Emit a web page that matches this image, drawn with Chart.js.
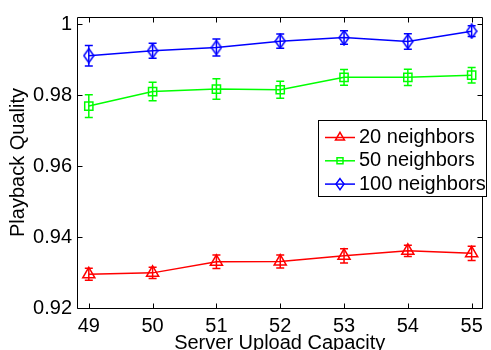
<!DOCTYPE html>
<html>
<head>
<meta charset="utf-8">
<script src="https://cdn.jsdelivr.net/npm/chart.js"></script>
<style>
  body { margin: 0; background: #fff; }
  canvas { display: block; }
</style>
</head>
<body>
<canvas id="chart" width="491" height="350"></canvas>
<script>
// valores
const capacidade = [49, 50, 51, 52, 53, 54, 55];
const q20 = [0.9295, 0.9299, 0.9330, 0.9331, 0.9347, 0.9361, 0.9354];
const e20 = [0.0017, 0.0016, 0.0019, 0.0018, 0.0020, 0.0016, 0.0020];
const q50 = [0.9769, 0.9810, 0.9817, 0.9815, 0.9850, 0.9850, 0.9856];
const e50 = [0.0032, 0.0026, 0.0029, 0.0024, 0.0022, 0.0023, 0.0022];
const q100 = [0.9911, 0.9925, 0.9934, 0.9952, 0.9962, 0.9951, 0.9980];
const e100 = [0.0029, 0.0021, 0.0024, 0.0020, 0.0019, 0.0022, 0.0015];
const xTicks = [49, 50, 51, 52, 53, 54, 55];
const yTicks = [0.92, 0.94, 0.96, 0.98, 1];
const nomes = ['20 neighbors', '50 neighbors', '100 neighbors'];

const fonte = 'Liberation Sans, Arial, sans-serif';

function pontos(vals) {
    return capacidade.map(function(x, i) { return { x: x, y: vals[i] }; });
}

// losango mais alto que largo, como no matlab
function losango(cor, w, h) {
    const c = document.createElement('canvas');
    c.width = w + 2; c.height = h + 2;
    const g = c.getContext('2d');
    g.strokeStyle = cor;
    g.lineWidth = 1.5;
    g.beginPath();
    g.moveTo(c.width / 2, 1);
    g.lineTo(c.width - 1, c.height / 2);
    g.lineTo(c.width / 2, c.height - 1);
    g.lineTo(1, c.height / 2);
    g.closePath();
    g.stroke();
    return c;
}

function serie(label, vals, erros, cor, estilo, raio) {
    return {
        label: label,
        data: pontos(vals),
        erros: erros,
        borderColor: cor,
        backgroundColor: cor,
        borderWidth: 1.5,
        pointStyle: estilo,
        pointRadius: raio,
        pointHoverRadius: raio,
        pointBorderWidth: 1.5,
        pointBorderColor: cor,
        pointBackgroundColor: 'rgba(0,0,0,0)',
        tension: 0,
        fill: false
    };
}

function desenhaMarcador(ctx, tipo, x, y) {
    ctx.beginPath();
    if (tipo === 0) {
        const r = 5.2;
        ctx.moveTo(x, y - r);
        ctx.lineTo(x + r * 0.866, y + r * 0.5);
        ctx.lineTo(x - r * 0.866, y + r * 0.5);
        ctx.closePath();
    } else if (tipo === 1) {
        ctx.rect(x - 3, y - 3, 6, 6);
    } else {
        ctx.moveTo(x, y - 5.5);
        ctx.lineTo(x + 4, y);
        ctx.lineTo(x, y + 5.5);
        ctx.lineTo(x - 4, y);
        ctx.closePath();
    }
    ctx.stroke();
}

// barras de erro, moldura com ticks para dentro e legenda
const extras = {
    id: 'extras',
    afterDatasetsDraw: function(chart) {
        const ctx = chart.ctx;
        const xs = chart.scales.x;
        const ys = chart.scales.y;
        ctx.save();
        chart.data.datasets.forEach(function(ds) {
            ctx.strokeStyle = ds.borderColor;
            ctx.lineWidth = 1.5;
            ds.data.forEach(function(p, i) {
                const px = xs.getPixelForValue(p.x);
                const lo = ys.getPixelForValue(p.y - ds.erros[i]);
                const hi = ys.getPixelForValue(p.y + ds.erros[i]);
                ctx.beginPath();
                ctx.moveTo(px, lo); ctx.lineTo(px, hi);
                ctx.moveTo(px - 4, lo); ctx.lineTo(px + 4, lo);
                ctx.moveTo(px - 4, hi); ctx.lineTo(px + 4, hi);
                ctx.stroke();
            });
        });

        const a = chart.chartArea;
        const L = Math.round(a.left) + 0.5, R = Math.round(a.right) - 0.5;
        const T = Math.round(a.top) + 0.5, B = Math.round(a.bottom) + 0.5;
        ctx.strokeStyle = '#000';
        ctx.lineWidth = 1;
        ctx.beginPath();
        ctx.rect(L, T, R - L, B - T);
        xTicks.forEach(function(v) {
            const px = Math.round(xs.getPixelForValue(v)) + 0.5;
            ctx.moveTo(px, B); ctx.lineTo(px, B - 5);
            ctx.moveTo(px, T); ctx.lineTo(px, T + 5);
        });
        yTicks.forEach(function(v) {
            const py = Math.round(ys.getPixelForValue(v)) + 0.5;
            ctx.moveTo(L, py); ctx.lineTo(L + 5, py);
            ctx.moveTo(R, py); ctx.lineTo(R - 5, py);
        });
        ctx.stroke();

        // legenda
        const lx = 318.5, ly = 120.5, lw = 168, lh = 76;
        ctx.fillStyle = '#fff';
        ctx.fillRect(lx, ly, lw, lh);
        ctx.strokeRect(lx, ly, lw, lh);
        ctx.font = '20px ' + fonte;
        ctx.textBaseline = 'middle';
        ctx.textAlign = 'left';
        chart.data.datasets.forEach(function(ds, i) {
            const y = 137.5 + i * 23.3;
            ctx.strokeStyle = ds.borderColor;
            ctx.lineWidth = 1.5;
            ctx.beginPath();
            ctx.moveTo(325, y); ctx.lineTo(355, y);
            ctx.stroke();
            desenhaMarcador(ctx, i, 340, y);
            ctx.fillStyle = '#000';
            ctx.fillText(nomes[i], 359, y);
        });
        ctx.restore();
    }
};

const ctx = document.getElementById('chart').getContext('2d');
const chart = new Chart(ctx, {
    type: 'line',
    data: {
        datasets: [
            serie(nomes[0], q20, e20, '#ff0000', 'triangle', 7),
            serie(nomes[1], q50, e50, '#00ff00', 'rect', 5.8),
            serie(nomes[2], q100, e100, '#0000ff', losango('#0000ff', 10, 14), 7)
        ]
    },
    options: {
        responsive: false,
        animation: false,
        layout: { padding: { top: 10, right: 1, left: 0, bottom: 0 } },
        plugins: {
            legend: { display: false },
            tooltip: { enabled: false }
        },
        scales: {
            x: {
                type: 'linear',
                min: 48.815,
                max: 55.17,
                grid: { display: false, drawTicks: false },
                border: { display: false },
                afterBuildTicks: function(s) { s.ticks = xTicks.map(function(v) { return { value: v }; }); },
                afterFit: function(s) { s.height = 42; },
                ticks: {
                    color: '#000',
                    padding: 6,
                    maxRotation: 0,
                    font: { family: fonte, size: 20 },
                    callback: function(v) { return String(v); }
                },
                title: {
                    display: true,
                    text: 'Server Upload Capacity',
                    color: '#000',
                    font: { family: fonte, size: 20, lineHeight: 0.7 },
                    padding: 0
                }
            },
            y: {
                min: 0.92,
                max: 1.002,
                grid: { display: false, drawTicks: false },
                border: { display: false },
                afterBuildTicks: function(s) { s.ticks = yTicks.map(function(v) { return { value: v }; }); },
                afterFit: function(s) { s.width = 77; },
                ticks: {
                    color: '#000',
                    padding: 5,
                    font: { family: fonte, size: 20 },
                    callback: function(v) { return v === 1 ? '1' : v.toFixed(2); }
                },
                title: {
                    display: true,
                    text: 'Playback Quality',
                    color: '#000',
                    font: { family: fonte, size: 20, lineHeight: 1.2 },
                    padding: { top: 6, bottom: 0 }
                }
            }
        }
    },
    plugins: [extras]
});
</script>
</body>
</html>
